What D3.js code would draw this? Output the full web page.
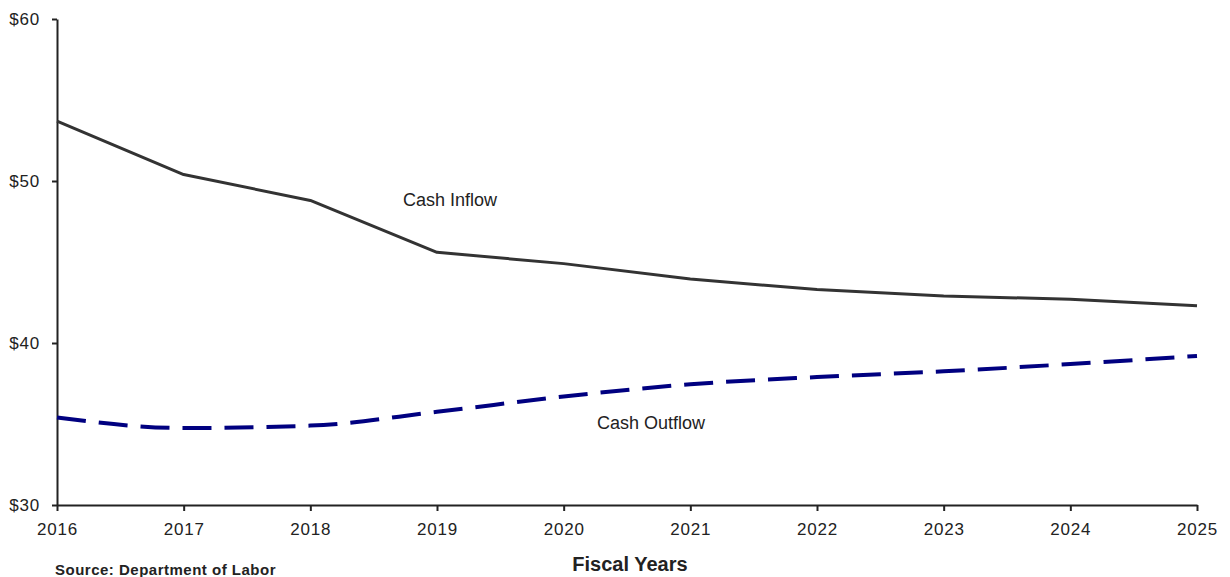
<!DOCTYPE html>
<html><head><meta charset="utf-8">
<script src="https://cdn.jsdelivr.net/npm/d3@7"></script>
<style>body{margin:0;background:#fff;}svg{display:block;font-family:Arial,"Liberation Sans",sans-serif;}</style>
</head><body>
<svg id="c" width="1230" height="577"></svg>
<script>
const years = [2016,2017,2018,2019,2020,2021,2022,2023,2024,2025];
const cashInflow = [53.7,50.4,48.8,45.6,44.9,43.95,43.3,42.9,42.7,42.3];
const cashOutflow = [35.4,34.75,34.9,35.75,36.7,37.45,37.9,38.25,38.7,39.2];
const yTicks = [30,40,50,60];

const svg = d3.select("#c");
const x = d3.scaleLinear().domain([2016,2025]).range([57,1197]);
const y = d3.scaleLinear().domain([30,60]).range([505,19]);

const yAxis = svg.append("g").attr("transform","translate(57,0)")
  .call(d3.axisLeft(y).tickValues(yTicks).tickFormat(d=>"$"+d).tickSize(5).tickSizeOuter(0).tickPadding(12));
const xAxis = svg.append("g").attr("transform","translate(0,505)")
  .call(d3.axisBottom(x).tickValues(years).tickFormat(d3.format("d")).tickSize(6).tickSizeOuter(0).tickPadding(12));
[yAxis,xAxis].forEach(g=>{
  g.selectAll("path,line").attr("stroke","#222").attr("stroke-width",2);
  g.selectAll("text").attr("font-size",17).attr("letter-spacing","0.8px").attr("fill","#222").attr("font-family","Arial, 'Liberation Sans', sans-serif");
});

const lineIn = d3.line().x((d,i)=>x(years[i])).y(d=>y(d));
const lineOut = d3.line().x((d,i)=>x(years[i])).y(d=>y(d)).curve(d3.curveMonotoneX);

svg.append("path").attr("d",lineIn(cashInflow)).attr("fill","none")
  .attr("stroke","#333").attr("stroke-width",3).attr("stroke-linejoin","round");
svg.append("path").attr("d",lineOut(cashOutflow)).attr("fill","none")
  .attr("stroke","#000080").attr("stroke-width",4).attr("stroke-dasharray","29,13");

svg.append("text").attr("x",403).attr("y",206).attr("font-size",18).attr("fill","#222").text("Cash Inflow");
svg.append("text").attr("x",597).attr("y",429).attr("font-size",18).attr("fill","#222").text("Cash Outflow");
svg.append("text").attr("x",630).attr("y",571).attr("text-anchor","middle").attr("font-size",20).attr("font-weight","bold").attr("fill","#222").text("Fiscal Years");
svg.append("text").attr("x",55).attr("y",575).attr("font-size",15).attr("letter-spacing","0.5px").attr("font-weight","bold").attr("fill","#222").text("Source: Department of Labor");
</script>
</body></html>
